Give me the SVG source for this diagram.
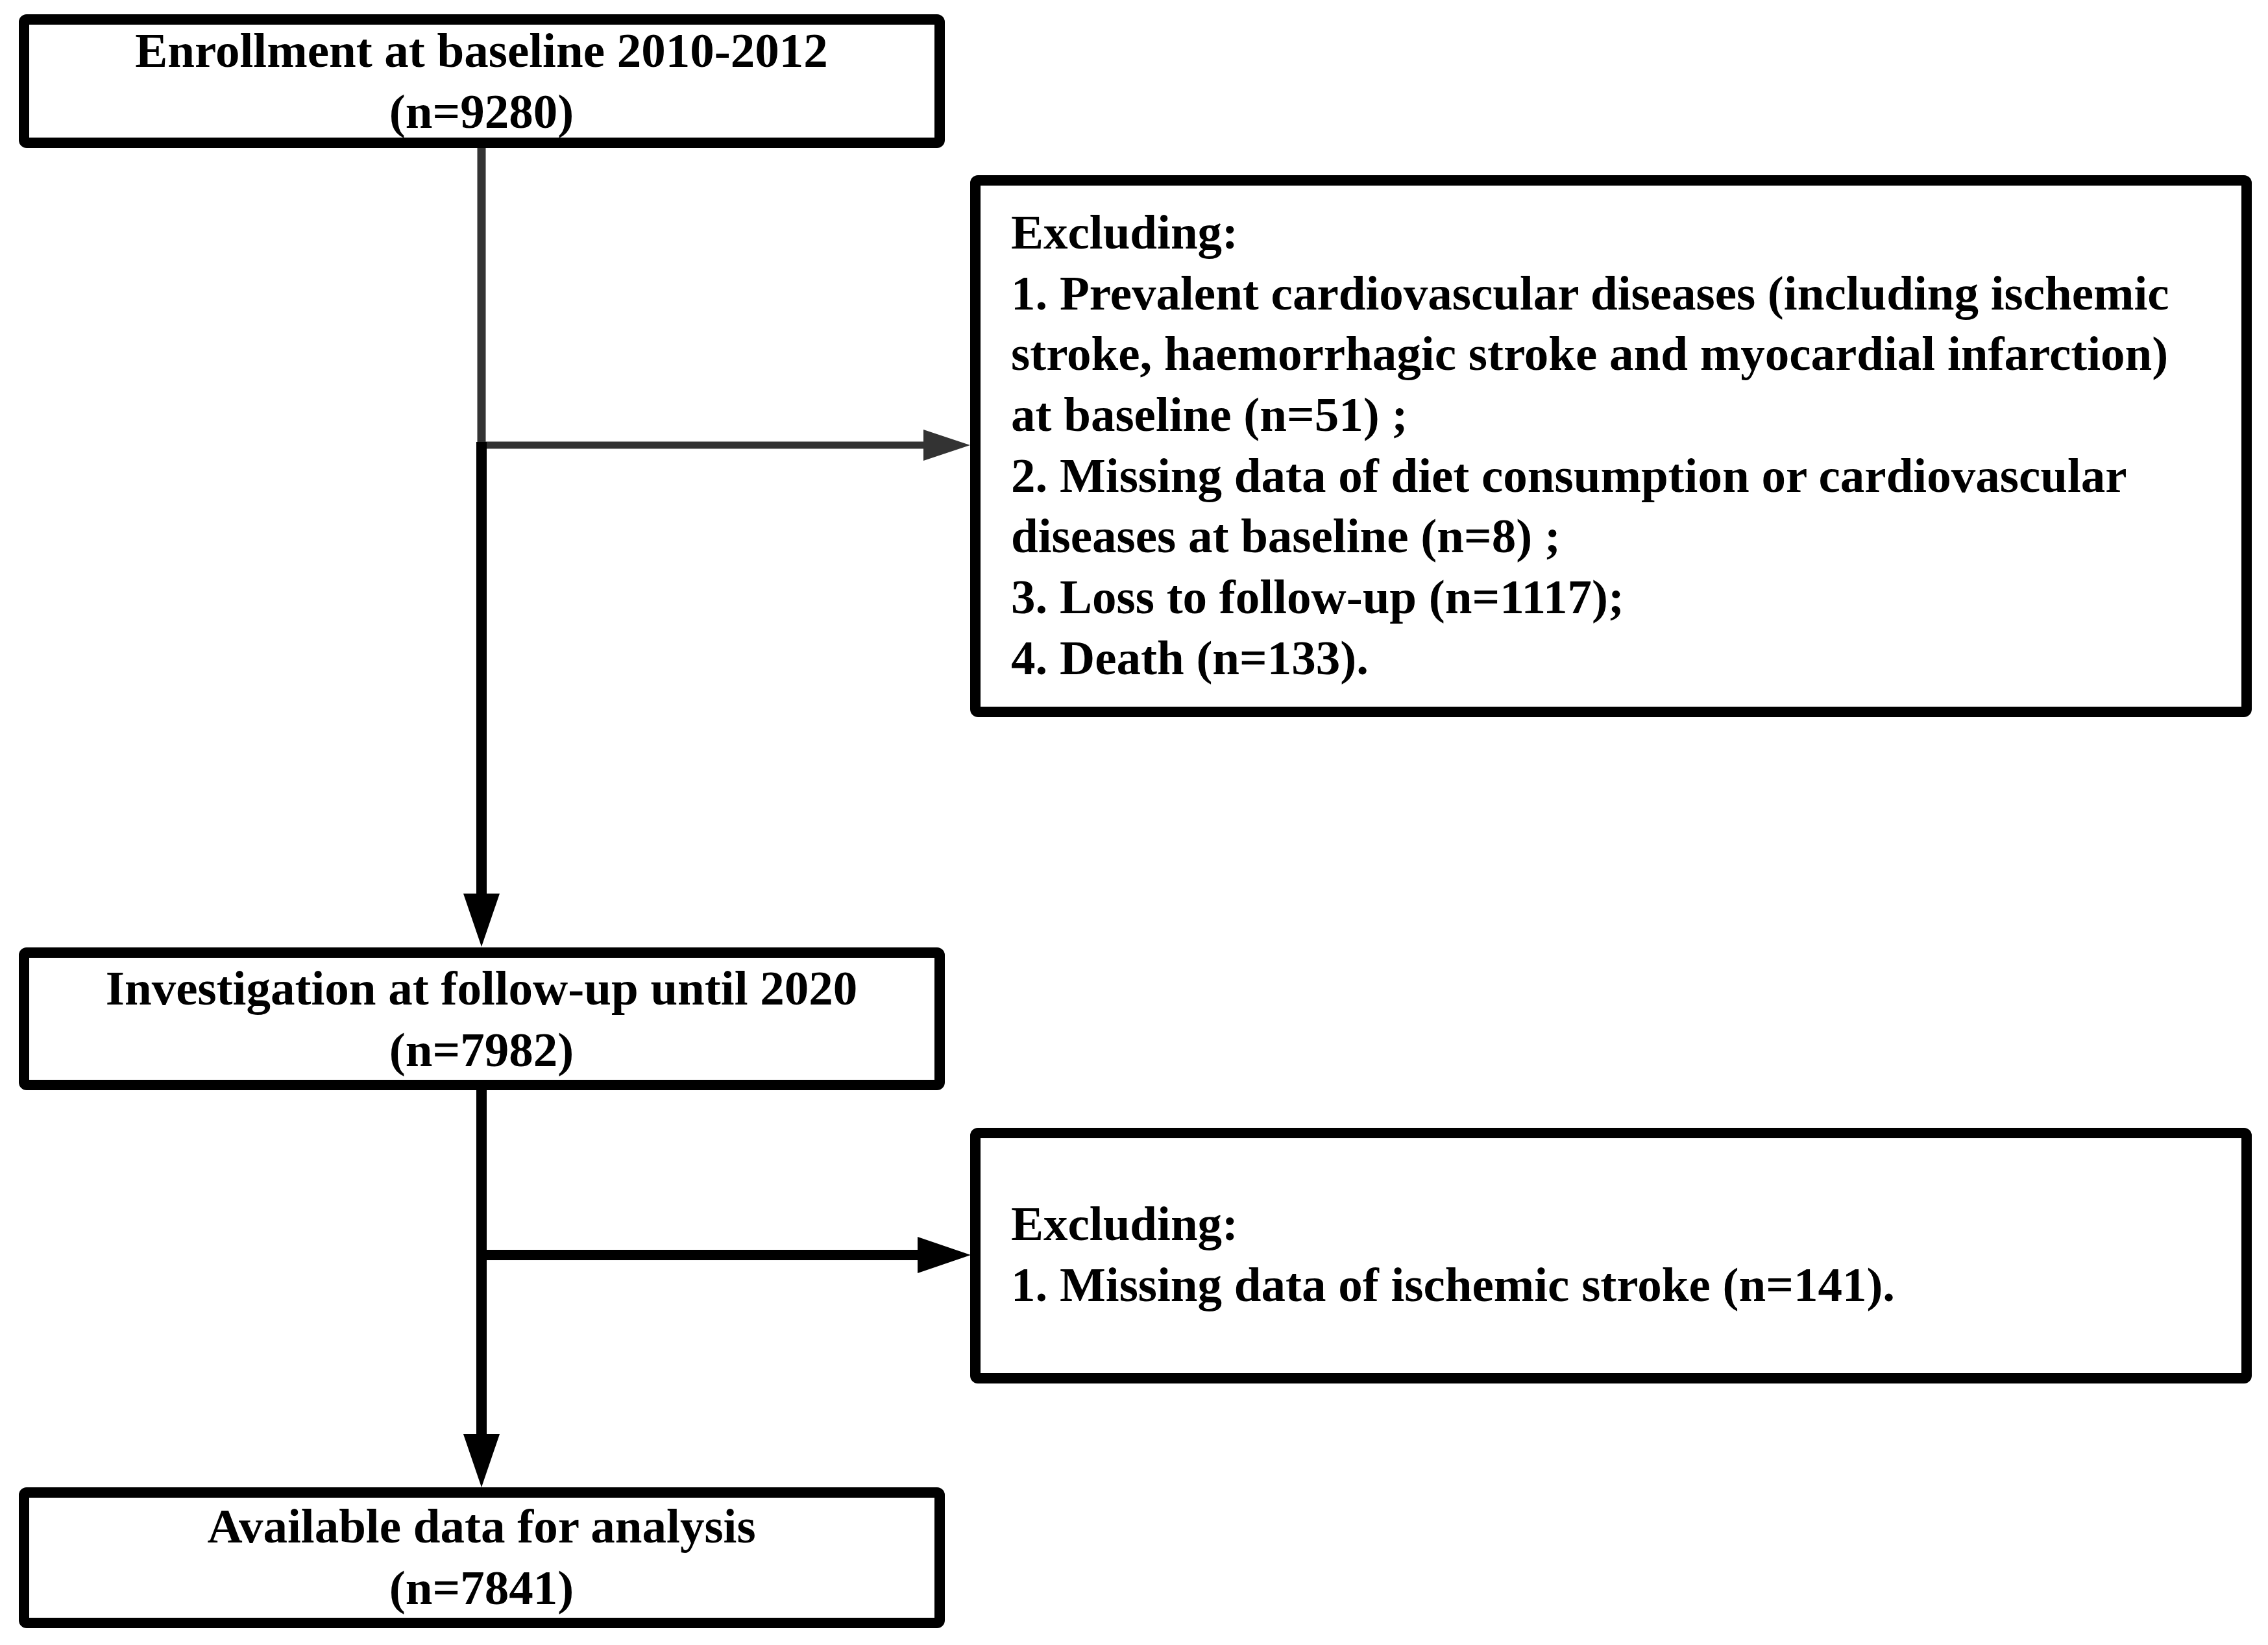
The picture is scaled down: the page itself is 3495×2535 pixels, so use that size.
<svg xmlns="http://www.w3.org/2000/svg" width="3495" height="2535" viewBox="0 0 3495 2535">
  <style>
    .box { fill: #ffffff; stroke: #000000; stroke-width: 16; }
    .t { font-family: "Liberation Serif", "Times New Roman", serif; font-weight: bold; font-size: 75px; fill: #000000; }
    .c { text-anchor: middle; }
    .thin { fill: none; stroke: #333333; stroke-width: 11; }
    .trunk { fill: none; stroke: #333333; stroke-width: 13; }
    .thick { fill: none; stroke: #000000; stroke-width: 16; }
  </style>
  <defs>
    <marker id="head-grey" markerUnits="userSpaceOnUse" markerWidth="72" markerHeight="48" viewBox="0 0 72 48" refX="0" refY="24" orient="auto">
      <path d="M0,0 L72,24 L0,48 Z" fill="#333333"/>
    </marker>
    <marker id="head-black" markerUnits="userSpaceOnUse" markerWidth="82" markerHeight="56" viewBox="0 0 82 56" refX="0" refY="28" orient="auto">
      <path d="M0,0 L82,28 L0,56 Z" fill="#000000"/>
    </marker>
  </defs>

  <rect width="3495" height="2535" fill="#ffffff"/>

  <g id="connectors">
    <!-- trunk from enrollment down to the first branch -->
    <path class="trunk" d="M742,228 L742,686"/>
    <!-- first exclusion branch -->
    <path class="thin" d="M737,686 L1423,686" marker-end="url(#head-grey)"/>
    <!-- trunk continues to follow-up box -->
    <path class="thick" d="M742,681 L742,1377" marker-end="url(#head-black)"/>
    <!-- trunk from follow-up to analysis box -->
    <path class="thick" d="M742,1680 L742,2210" marker-end="url(#head-black)"/>
    <!-- second exclusion branch -->
    <path class="thick" d="M734,1934 L1414,1934" marker-end="url(#head-black)"/>
  </g>

  <g id="enrollment">
    <rect class="box" x="37" y="30" width="1411" height="190" rx="4"/>
    <text class="t c" x="742" y="103">Enrollment at baseline 2010-2012</text>
    <text class="t c" x="742" y="197">(n=9280)</text>
  </g>

  <g id="exclusion-baseline">
    <rect class="box" x="1503" y="278" width="1959" height="819" rx="4"/>
    <text class="t" x="1558" y="383">Excluding:</text>
    <text class="t" x="1558" y="477">1. Prevalent cardiovascular diseases (including ischemic</text>
    <text class="t" x="1558" y="570">stroke, haemorrhagic stroke and myocardial infarction)</text>
    <text class="t" x="1558" y="664">at baseline (n=51) ;</text>
    <text class="t" x="1558" y="758">2. Missing data of diet consumption or cardiovascular</text>
    <text class="t" x="1558" y="851">diseases at baseline (n=8) ;</text>
    <text class="t" x="1558" y="945">3. Loss to follow-up (n=1117);</text>
    <text class="t" x="1558" y="1039">4. Death (n=133).</text>
  </g>

  <g id="follow-up">
    <rect class="box" x="37" y="1468" width="1411" height="204" rx="4"/>
    <text class="t c" x="742" y="1548">Investigation at follow-up until 2020</text>
    <text class="t c" x="742" y="1643">(n=7982)</text>
  </g>

  <g id="exclusion-followup">
    <rect class="box" x="1503" y="1746" width="1959" height="378" rx="4"/>
    <text class="t" x="1558" y="1911">Excluding:</text>
    <text class="t" x="1558" y="2005">1. Missing data of ischemic stroke (n=141).</text>
  </g>

  <g id="analysis">
    <rect class="box" x="37" y="2300" width="1411" height="201" rx="4"/>
    <text class="t c" x="742" y="2377">Available data for analysis</text>
    <text class="t c" x="742" y="2472">(n=7841)</text>
  </g>
</svg>
